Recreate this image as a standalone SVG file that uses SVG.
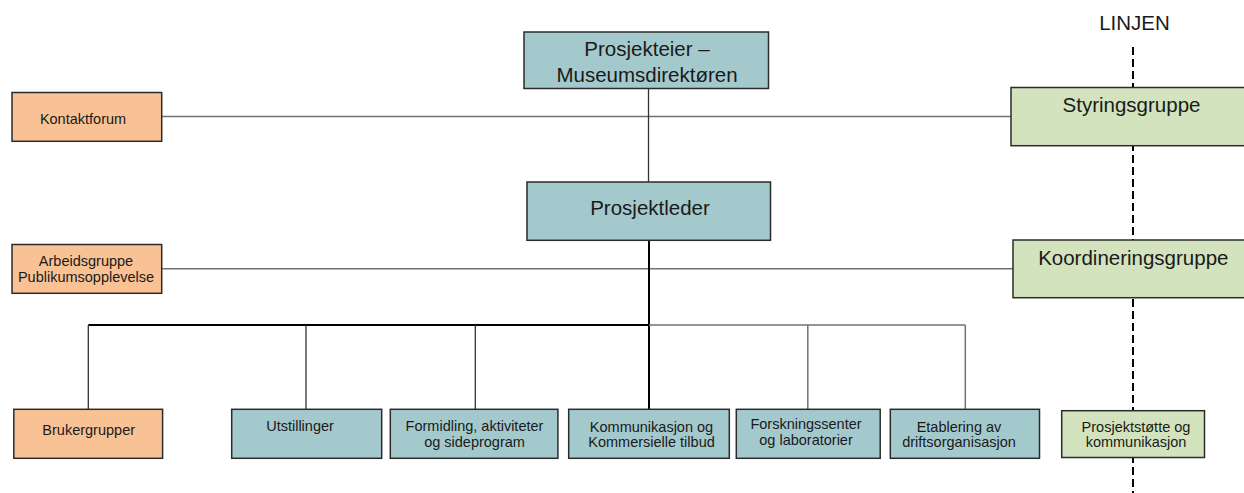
<svg xmlns="http://www.w3.org/2000/svg" width="1244" height="493" viewBox="0 0 1244 493">
<defs>
<style>
.box{stroke:#2b2b2b;stroke-width:1.5}
.teal{fill:#A4C9CD}
.orange{fill:#F9C294}
.green{fill:#D3E3BE}
.big{font-family:"Liberation Sans",Arial,sans-serif;font-size:20.5px;fill:#1a1a1a;text-anchor:middle}
.small{font-family:"Liberation Sans",Arial,sans-serif;font-size:14.5px;fill:#1a1a1a;text-anchor:middle}
.gray{stroke:#707070;stroke-width:1.5;fill:none}
.dark{stroke:#333;stroke-width:1.3;fill:none}
.black{stroke:#000;stroke-width:2;fill:none}
.dash{stroke:#000;stroke-width:2;stroke-dasharray:8 4;fill:none}
</style>
</defs>
<rect width="1244" height="493" fill="#fff"/>
<g id="connectors">
<line class="dash" x1="1133" y1="47" x2="1133" y2="493"/>
<line class="gray" x1="161.7" y1="116.5" x2="1011" y2="116.5"/>
<line class="gray" x1="161.7" y1="268.7" x2="1013" y2="268.7"/>
<line class="dark" x1="648.5" y1="88.7" x2="648.5" y2="181.7"/>
<line class="black" x1="649" y1="240.3" x2="649" y2="409.3"/>
<line class="black" x1="88.3" y1="325" x2="649" y2="325"/>
<line class="gray" x1="649" y1="325" x2="965.3" y2="325"/>
<line class="dark" x1="88.3" y1="325" x2="88.3" y2="409.3"/>
<line class="dark" x1="306" y1="325" x2="306" y2="409.3"/>
<line class="dark" x1="475.3" y1="325" x2="475.3" y2="409.3"/>
<line class="gray" x1="807.8" y1="325" x2="807.8" y2="409.3"/>
<line class="gray" x1="965.3" y1="325" x2="965.3" y2="409.3"/>
</g>
<text class="big" x="1134.5" y="30">LINJEN</text>
<g id="prosjekteier">
<rect class="box teal" x="524" y="32" width="244.5" height="56.5"/>
<text class="big" x="647" y="56">Prosjekteier –</text>
<text class="big" x="647" y="81.5">Museumsdirektøren</text>
</g>
<g id="prosjektleder">
<rect class="box teal" x="527" y="182" width="243.5" height="58.3"/>
<text class="big" x="650" y="215">Prosjektleder</text>
</g>
<g id="kontaktforum">
<rect class="box orange" x="12" y="92.5" width="149.7" height="48.8"/>
<text class="small" x="83" y="124">Kontaktforum</text>
</g>
<g id="arbeidsgruppe">
<rect class="box orange" x="12" y="244.5" width="149.7" height="48.8"/>
<text class="small" x="86" y="265.7">Arbeidsgruppe</text>
<text class="small" x="86" y="281.7">Publikumsopplevelse</text>
</g>
<g id="styringsgruppe">
<rect class="box green" x="1011" y="87.5" width="245" height="58.2"/>
<text class="big" x="1131.5" y="111.5">Styringsgruppe</text>
</g>
<g id="koordineringsgruppe">
<rect class="box green" x="1013" y="240" width="245" height="57.7"/>
<text class="big" x="1133.3" y="265">Koordineringsgruppe</text>
</g>
<g id="brukergrupper">
<rect class="box orange" x="13.8" y="409.3" width="148.8" height="49"/>
<text class="small" x="88.7" y="435">Brukergrupper</text>
</g>
<g id="utstillinger">
<rect class="box teal" x="231.7" y="409.3" width="150" height="49"/>
<text class="small" x="300" y="431">Utstillinger</text>
</g>
<g id="formidling">
<rect class="box teal" x="390.3" y="409.3" width="167.6" height="49"/>
<text class="small" x="474.5" y="430.7">Formidling, aktiviteter</text>
<text class="small" x="474.5" y="446.5">og sideprogram</text>
</g>
<g id="kommunikasjon">
<rect class="box teal" x="568.7" y="409.3" width="160.6" height="49"/>
<text class="small" x="651.5" y="431.5">Kommunikasjon og</text>
<text class="small" x="651.5" y="447.3">Kommersielle tilbud</text>
</g>
<g id="forskningssenter">
<rect class="box teal" x="736.3" y="409.3" width="143.9" height="49"/>
<text class="small" x="806" y="429.3">Forskningssenter</text>
<text class="small" x="806" y="445">og laboratorier</text>
</g>
<g id="etablering">
<rect class="box teal" x="890.3" y="409.3" width="149.2" height="49"/>
<text class="small" x="959" y="431.7">Etablering av</text>
<text class="small" x="959" y="447.3">driftsorganisasjon</text>
</g>
<g id="prosjektstotte">
<rect class="box green" x="1061.7" y="410.7" width="142.8" height="46.8"/>
<text class="small" x="1136" y="432.3">Prosjektstøtte og</text>
<text class="small" x="1136" y="447">kommunikasjon</text>
</g>
</svg>
